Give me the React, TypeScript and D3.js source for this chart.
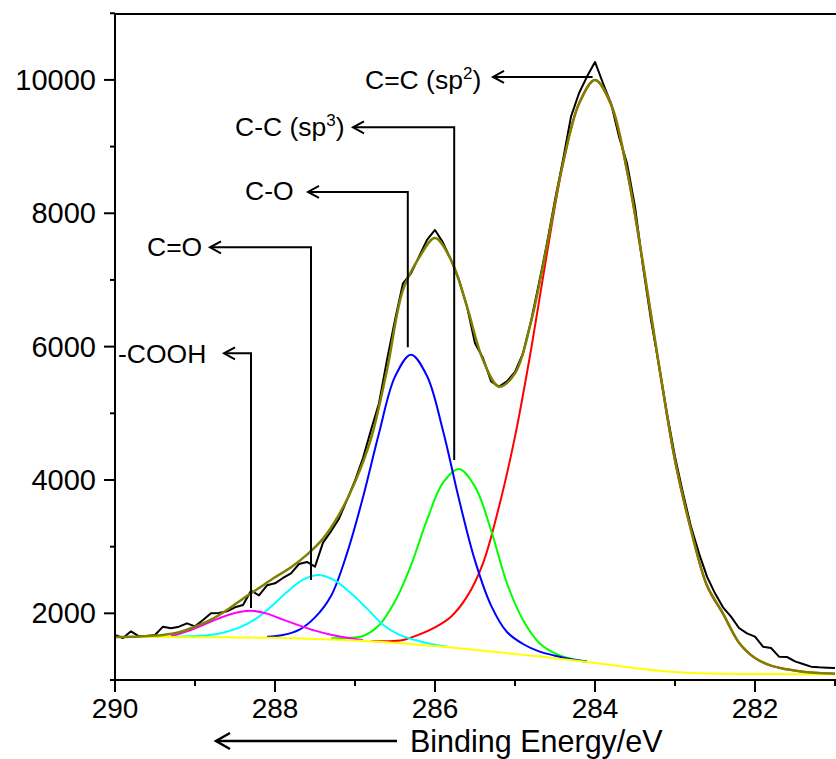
import React from 'react';
import * as d3 from 'd3';

// measured spectrum (C 1s)
const rawEnergy = [
  290.0, 289.9, 289.8, 289.7, 289.6, 289.5, 289.4, 289.3, 289.2, 289.1,
  289.0, 288.9, 288.8, 288.7, 288.6, 288.5, 288.4, 288.3, 288.2, 288.1,
  288.0, 287.9, 287.8, 287.7, 287.6, 287.5, 287.4, 287.3, 287.2, 287.1,
  287.0, 286.9, 286.8, 286.7, 286.6, 286.5, 286.4, 286.3, 286.2, 286.1,
  286.0, 285.9, 285.8, 285.7, 285.6, 285.5, 285.4, 285.3, 285.2, 285.1,
  285.0, 284.9, 284.8, 284.7, 284.6, 284.5, 284.4, 284.3, 284.2, 284.1,
  284.0, 283.9, 283.8, 283.7, 283.6, 283.5, 283.4, 283.3, 283.2, 283.1,
  283.0, 282.9, 282.8, 282.7, 282.6, 282.5, 282.4, 282.3, 282.2, 282.1,
  282.0, 281.9, 281.8, 281.7, 281.6, 281.5, 281.4, 281.3, 281.2, 281.1, 281.0,
];
const rawCounts = [
  1675, 1630, 1730, 1655, 1660, 1675, 1800, 1775, 1800, 1850,
  1805, 1900, 2000, 2005, 2030, 2090, 2125, 2340, 2270, 2420,
  2450, 2530, 2600, 2740, 2770, 2700, 3060, 3230, 3420, 3700,
  3990, 4330, 4750, 5150, 5800, 6400, 6950, 7100, 7350, 7600,
  7750, 7560, 7300, 7000, 6600, 6050, 5830, 5480, 5400, 5480,
  5620, 5900, 6380, 6950, 7550, 8200, 8800, 9450, 9800, 10050,
  10270, 9950, 9650, 9150, 8750, 8100, 7200, 6400, 5720, 5000,
  4350, 3800, 3300, 2900, 2550, 2300, 2090, 1950, 1780, 1700,
  1650, 1500, 1480, 1350, 1345, 1280, 1240, 1200, 1190, 1185, 1180,
];

// envelope and background
const fitEnergy = [
  290.0, 289.8, 289.6, 289.4, 289.2, 289.0, 288.8, 288.6, 288.4, 288.2,
  288.0, 287.8, 287.6, 287.4, 287.2, 287.0, 286.8, 286.6, 286.4, 286.2,
  286.0, 285.8, 285.6, 285.4, 285.2, 285.0, 284.8, 284.6, 284.4, 284.2,
  284.0, 283.8, 283.6, 283.4, 283.2, 283.0, 282.8, 282.6, 282.4, 282.2,
  282.0, 281.8, 281.6, 281.4, 281.2, 281.0,
];
const envelope = [
  1645, 1648, 1660, 1675, 1715, 1800, 1905, 2050, 2220, 2380,
  2540, 2690, 2880, 3120, 3480, 3970, 4620, 5650, 6850, 7330,
  7630, 7300, 6600, 5800, 5400, 5600, 6370, 7520, 8750, 9640,
  10000, 9640, 8650, 7250, 5720, 4300, 3250, 2420, 2000, 1560,
  1330, 1215, 1160, 1125, 1105, 1095,
];
const background = [
  1645, 1645, 1645, 1644, 1643, 1642, 1641, 1640, 1638, 1635,
  1632, 1627, 1620, 1612, 1603, 1593, 1580, 1565, 1548, 1530,
  1510, 1488, 1465, 1440, 1415, 1390, 1365, 1340, 1312, 1285,
  1255, 1225, 1195, 1165, 1140, 1120, 1106, 1098, 1094, 1091,
  1090, 1089, 1088, 1088, 1088, 1088,
];

// fitted components
const ccSp2Energy = [
  286.8, 286.6, 286.4, 286.2, 286.0, 285.8, 285.6, 285.4, 285.2, 285.0,
  284.8, 284.6, 284.4, 284.2, 284.0, 283.8, 283.6, 283.4, 283.2, 283.0,
  282.8, 282.6, 282.4, 282.2, 282.0, 281.8, 281.6, 281.4, 281.2, 281.0,
];
const ccSp2 = [
  1585, 1580, 1600, 1680, 1790, 1950, 2250, 2750, 3600, 4650,
  5950, 7400, 8742, 9650, 10000, 9625, 8625, 7228, 5700, 4280,
  3250, 2410, 1990, 1560, 1330, 1215, 1160, 1125, 1105, 1095,
];
const ccSp3Energy = [
  287.3, 287.1, 286.9, 286.7, 286.5, 286.3, 286.1, 285.9, 285.7, 285.5,
  285.3, 285.1, 284.9, 284.7, 284.5, 284.3, 284.1,
];
const ccSp3 = [
  1625, 1630, 1660, 1820, 2180, 2720, 3400, 3960, 4165, 3900,
  3250, 2450, 1900, 1560, 1400, 1320, 1280,
];
const coEnergy = [
  288.1, 287.9, 287.7, 287.5, 287.3, 287.1, 286.9, 286.7, 286.5, 286.3,
  286.1, 285.9, 285.7, 285.5, 285.3, 285.1, 284.9, 284.7, 284.5, 284.3, 284.1,
];
const co = [
  1648, 1675, 1752, 1940, 2260, 2900, 3740, 4700, 5550, 5880,
  5560, 4740, 3710, 2790, 2120, 1720, 1540, 1430, 1365, 1312, 1275,
];
const cdoEnergy = [
  289.25, 289.05, 288.85, 288.65, 288.45, 288.25, 288.05, 287.85, 287.65, 287.45,
  287.25, 287.05, 286.85, 286.65, 286.45, 286.25, 286.05, 285.85,
];
const cdo = [
  1648, 1655, 1670, 1710, 1785, 1910, 2100, 2320, 2505, 2575,
  2490, 2300, 2070, 1830, 1680, 1600, 1540, 1500,
];
const coohEnergy = [
  289.3, 289.1, 288.9, 288.7, 288.5, 288.3, 288.1, 287.9, 287.7, 287.5,
  287.3, 287.1, 286.9,
];
const cooh = [
  1655, 1730, 1825, 1925, 2005, 2040, 1995, 1905, 1820, 1740,
  1680, 1635, 1600,
];

const xTicks = [290, 288, 286, 284, 282];
const xMinorTicks = [289, 287, 285, 283, 281];
const yTicks = [2000, 4000, 6000, 8000, 10000];
const yMinorTicks = [1000, 3000, 5000, 7000, 9000, 11000];

// peak labels: text, energy of the leader, where the leader ends (counts), height of the arrow (counts)
const peakLabels = ['C=C (sp', 'C-C (sp', 'C-O', 'C=O', '-COOH'];
const peakSup = ['2', '3', '', '', ''];
const peakEnergy = [284.03, 285.76, 286.34, 287.55, 288.3];
const peakLeaderEnd = [10045, 4300, 5990, 2500, 2080];
const peakArrowLevel = [10045, 9290, 8320, 7490, 5900];

const W = 836;
const H = 759;
const font = "'Liberation Sans', Arial, sans-serif";

export default function App() {
  const x = d3.scaleLinear().domain([290, 281]).range([115, 835]);
  const y = d3.scaleLinear().domain([1000, 11000]).range([680, 13.25]);

  const pts = (e: number[], v: number[]) => e.map((d, i) => [d, v[i]] as [number, number]);
  const smooth = d3.line<[number, number]>()
    .x(d => x(d[0])).y(d => y(d[1]))
    .curve(d3.curveCatmullRom.alpha(0.5));
  const jagged = d3.line<[number, number]>()
    .x(d => x(d[0])).y(d => y(d[1]));

  const components = [
    { e: ccSp2Energy, v: ccSp2, color: '#ff0000' },
    { e: ccSp3Energy, v: ccSp3, color: '#00ff00' },
    { e: coEnergy, v: co, color: '#0000ff' },
    { e: cdoEnergy, v: cdo, color: '#00ffff' },
    { e: coohEnergy, v: cooh, color: '#ff00ff' },
  ];

  // label layout (pixels)
  const labelPos = [
    { tx: 365, ty: 89, tip: 493 },
    { tx: 235, ty: 136, tip: 353 },
    { tx: 245, ty: 200, tip: 308 },
    { tx: 147, ty: 256, tip: 210 },
    { tx: 118, ty: 363, tip: 224 },
  ];

  const chevron = (tx: number, ty: number, len = 11, half = 6) =>
    `M${tx + len},${ty - half}L${tx},${ty}L${tx + len},${ty + half}`;

  return (
    <svg width={W} height={H} style={{ position: 'absolute', left: 0, top: 0, background: '#fff' }}
      fontFamily={font}>
      <defs>
        <clipPath id="plot">
          <rect x={115} y={13} width={721} height={667} />
        </clipPath>
      </defs>

      <g clipPath="url(#plot)" fill="none" strokeWidth={2} strokeLinejoin="round">
        <path d={jagged(pts(rawEnergy, rawCounts)) || ''} stroke="#000" />
        {components.map((c, i) => (
          <path key={i} d={smooth(pts(c.e, c.v)) || ''} stroke={c.color} />
        ))}
        <path d={smooth(pts(fitEnergy, background)) || ''} stroke="#ffff00" />
        <path d={smooth(pts(fitEnergy, envelope)) || ''} stroke="#808000" strokeWidth={2.5} />
      </g>

      {/* leaders */}
      <g stroke="#000" strokeWidth={2} fill="none">
        {peakLabels.map((_, i) => {
          const lx = x(peakEnergy[i]);
          const ay = y(peakArrowLevel[i]);
          const ey = y(peakLeaderEnd[i]);
          const tip = labelPos[i].tip;
          return (
            <g key={i}>
              <path d={`M${tip},${ay}L${lx},${ay}L${lx},${ey}`} />
              <path d={chevron(tip, ay)} />
            </g>
          );
        })}
      </g>
      <g fontSize={26.5} fill="#000">
        {peakLabels.map((t, i) => (
          <text key={i} x={labelPos[i].tx} y={labelPos[i].ty}>
            {t}
            {peakSup[i] && (
              <>
                <tspan fontSize={17} dy={-10}>{peakSup[i]}</tspan>
                <tspan dy={10}>)</tspan>
              </>
            )}
          </text>
        ))}
      </g>

      {/* frame and axes */}
      <g stroke="#000" strokeWidth={2} fill="none">
        <path d={`M115,14L836,14`} />
        <path d={`M115,13V680H836`} />
        {xTicks.map(t => <path key={t} d={`M${x(t)},680v12`} />)}
        {xMinorTicks.map(t => <path key={t} d={`M${x(t)},680v6`} />)}
        {yTicks.map(t => <path key={t} d={`M115,${y(t)}h-11`} />)}
        {yMinorTicks.map(t => <path key={t} d={`M115,${y(t)}h-5`} />)}
      </g>
      <g fill="#000">
        {xTicks.map(t => (
          <text key={t} x={x(t)} y={718} fontSize={28} textAnchor="middle">{t}</text>
        ))}
        {yTicks.map(t => (
          <text key={t} x={96} y={y(t) + 10} fontSize={29} textAnchor="end">{t}</text>
        ))}
      </g>

      {/* axis title with direction arrow */}
      <g stroke="#000" strokeWidth={2.5} fill="none">
        <path d="M216,741H397" />
        <path d={chevron(216, 741, 14, 8)} />
      </g>
      <text x={410} y={751.5} fontSize={30.5} fill="#000">Binding Energy/eV</text>
    </svg>
  );
}
